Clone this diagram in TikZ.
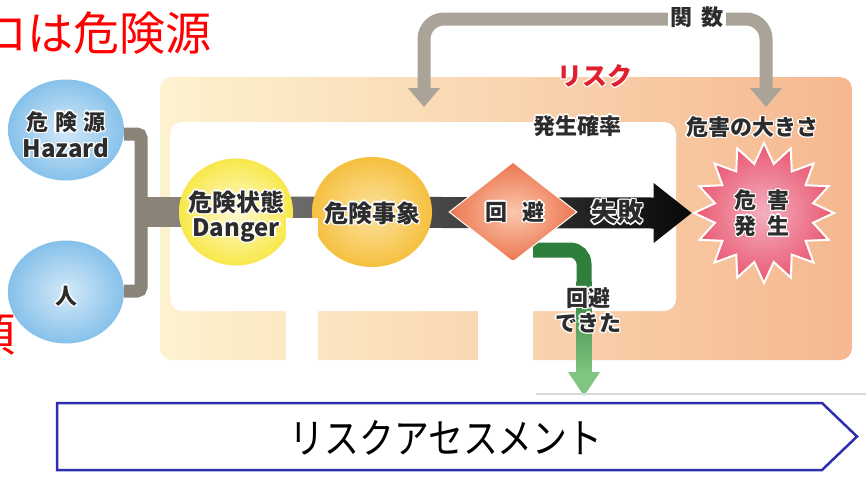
\documentclass[tikz,border=0pt]{standalone}
\usepackage{fontspec}
\usepackage{graphicx}
\setmainfont{Noto Sans CJK JP}
\usetikzlibrary{shapes.geometric,arrows.meta,calc}
\pgfdeclarelayer{back}\pgfdeclarelayer{bg}\pgfdeclarelayer{front}
\pgfsetlayers{back,bg,main,front}

\definecolor{txt}{HTML}{2C2C2C}
\definecolor{bgL}{HTML}{FDF2CF}
\definecolor{bgM}{HTML}{FAD9B0}
\definecolor{bgR}{HTML}{F5B890}
\definecolor{fnc}{HTML}{A9A497}
\definecolor{brkc}{HTML}{8A8478}
\definecolor{arL}{HTML}{7A7A7A}
\definecolor{arR}{HTML}{080808}
\definecolor{grnA}{HTML}{2F7F3C}
\definecolor{grnB}{HTML}{80C580}
\definecolor{riskred}{HTML}{E0202E}
\definecolor{pent}{HTML}{2E2EB0}
\definecolor{blueA}{HTML}{D4E9F8}
\definecolor{blueB}{HTML}{86C1EA}
\definecolor{blueC}{HTML}{3A94D8}
\definecolor{yelA}{HTML}{FEF9D0}
\definecolor{yelB}{HTML}{F8E84A}
\definecolor{yelC}{HTML}{EFCF00}
\definecolor{orA}{HTML}{FBE3A0}
\definecolor{orB}{HTML}{F6C040}
\definecolor{orC}{HTML}{EC9A10}
\definecolor{diA}{HTML}{FBC8AE}
\definecolor{diB}{HTML}{E6552A}
\definecolor{diC}{HTML}{E04A20}
\definecolor{stA}{HTML}{F4B0C0}
\definecolor{stB}{HTML}{E6405A}
\definecolor{stC}{HTML}{DC2A3C}

\pgfdeclareradialshading{blueball}{\pgfpointorigin}{color(0bp)=(blueA); color(25bp)=(blueB); color(50bp)=(blueC)}
\pgfdeclareradialshading{yelball}{\pgfpointorigin}{color(0bp)=(yelA); color(25bp)=(yelB); color(50bp)=(yelC)}
\pgfdeclareradialshading{orball}{\pgfpointorigin}{color(0bp)=(orA); color(25bp)=(orB); color(50bp)=(orC)}
\pgfdeclareradialshading{diball}{\pgfpointorigin}{color(0bp)=(diA); color(35bp)=(diB); color(50bp)=(diC)}
\pgfdeclareradialshading{stball}{\pgfpointorigin}{color(0bp)=(stA); color(32bp)=(stB); color(50bp)=(stC)}

\newcommand\halocp[2]{\rlap{\kern#1\raise#2\hbox{\color{white}\copy0}}}
\newcommand\halo[1]{{\setbox0=\hbox{#1}%
\halocp{1.4pt}{0pt}\halocp{-1.4pt}{0pt}\halocp{0pt}{1.4pt}\halocp{0pt}{-1.4pt}%
\halocp{1pt}{1pt}\halocp{-1pt}{1pt}\halocp{1pt}{-1pt}\halocp{-1pt}{-1pt}%
\copy0}}

\begin{document}
\begin{tikzpicture}[x=1pt,y=-1pt,
  lbl/.style={font=\bfseries\fontsize{22}{24}\selectfont, text=txt, inner sep=0},
  lblbig/.style={lbl, font=\bfseries\fontsize{24}{26}\selectfont},
  ball/.style={ellipse, shade, inner sep=0},
  funcline/.style={draw=fnc, line width=13, rounded corners=20,
     {Triangle[length=19pt,width=31pt]}-{Triangle[length=19pt,width=31pt]}},
  brk/.style={draw=brkc, line width=13, rounded corners=4},
  occl/.style={fill=white},
]
\useasboundingbox (0,0) rectangle (866,477);

% ---------- back layer ----------
\begin{pgfonlayer}{back}
\fill[white] (0,0) rectangle (866,477);
\shade[left color=bgL, middle color=bgM, right color=bgR, rounded corners=12] (160,77) rectangle (852,360);
\fill[white, rounded corners=12] (170,122) rectangle (676,311);
\end{pgfonlayer}

% ---------- shapes ----------
\node[ball, shading=blueball, minimum width=116, minimum height=101] (haz) at (66,130) {};
\node[ball, shading=blueball, minimum width=116, minimum height=103] (hum) at (66,292) {};
\node[ball, shading=yelball, minimum width=114, minimum height=107] (dng) at (236,212) {};
\node[ball, shading=orball, minimum width=120, minimum height=110] (evt) at (372,212) {};
\node[diamond, shade, shading=diball, draw=white, line width=1, inner sep=0,
      minimum width=128, minimum height=100] (dia) at (513,212) {};
\node[star, star points=16, star point ratio=1.4, shade, shading=stball,
      draw=white, line width=2, inner sep=0, minimum size=140] (st) at (764,213) {};

% ---------- connectors ----------
\coordinate (fl) at (424,107);
\coordinate (fr) at (766,107);
\coordinate (gEnd) at (584,396);
\begin{pgfonlayer}{bg}
\draw[funcline] (fl) |- ($(fr)+(0,-88)$) -- (fr);
\draw[brk] ($(haz.east)+(0,4)$) -- (141,134) -- (141,291) -- ($(hum.east)+(0,-1)$);
\draw[draw=brkc, line width=30] (141,212) -- (dng.center);
\shade[left color=arL, right color=arR]
  ($(dng.center)+(0,-15.5)$) -- ($(st.west)+(-38,-15.5)$) -- ($(st.west)+(-38,-30)$) --
  (st.west) -- ($(st.west)+(-38,30)$) -- ($(st.west)+(-38,15.5)$) --
  ($(dng.center)+(0,15.5)$) -- cycle;
\draw[draw=grnA, line width=15, rounded corners=14] ($(dia.center)+(20,38)$) -| ($(gEnd)+(0,-114)$);
\shade[top color=grnA, bottom color=grnB] ($(gEnd)+(-7.5,-115)$) rectangle ($(gEnd)+(7.5,-23)$);
\fill[grnB] ($(gEnd)+(-16,-24)$) -- ($(gEnd)+(16,-24)$) -- (gEnd) -- cycle;
\draw[gray!30, line width=1.5] (536,394) -- (866,394);
\end{pgfonlayer}

% ---------- front ----------
\begin{pgfonlayer}{front}
\fill[occl] (286,218) rectangle (318,378);
\fill[occl] (478,260) rectangle (533,378);

\node[lbl, fill=white, inner xsep=3, inner ysep=1] (fn) at (697,17) {関\hspace{0.4em}数};
\node[lbl] (t1) at (66,122) {\halo{危\hspace{0.3em}険\hspace{0.3em}源}};
\node[lblbig] (t2) at (66,148) {\halo{Hazard}};
\node[lbl] (t3) at (66,296) {\halo{人}};
\node[lblbig] (t4) at (236,202) {\halo{危険状態}};
\node[lblbig] (t5) at (236,230) {\halo{Danger}};
\node[lblbig] (t6) at (372,213) {\halo{危険事象}};
\node[lbl] (t7) at (515,212) {\halo{回\hspace{0.7em}避}};
\node[lbl, font=\bfseries\fontsize{26}{28}\selectfont] (t8) at (617,212) {\halo{失敗}};
\node[lbl] (t9) at (762,200) {\halo{危\hspace{0.5em}害}};
\node[lbl] (t10) at (762,226) {\halo{発\hspace{0.5em}生}};
\node[lbl] (t11) at (752,127) {\halo{危害の大きさ}};
\node[lbl] (t12) at (577,126) {\halo{発生確率}};
\node[lbl, text=riskred, font=\bfseries\fontsize{25}{27}\selectfont] (t13) at (595,76) {\halo{リスク}};
\node[lbl] (t14) at (588,298) {\halo{回避}};
\node[lbl] (t15) at (588,323) {\halo{できた}};

\coordinate (pa) at (57,403);
\coordinate (pb) at (822,403);
\coordinate (pc) at (857,436.5);
\coordinate (pd) at (822,470);
\coordinate (pe) at (57,470);
\draw[draw=pent, line width=2.5] (pa) -- (pb) -- (pc) -- (pd) -- (pe) -- cycle;
\node[inner sep=0, font=\fontsize{41}{44}\selectfont] (ra) at (446,438) {\scalebox{0.85}[1]{リスクアセスメント}};

\node[anchor=east, inner sep=0, text=red, font=\fontsize{46}{48}\selectfont] (rt) at (212,33) {ロは危険源};
\node[anchor=east, inner sep=0, text=red, font=\fontsize{46}{48}\selectfont] (rt2) at (16,335) {項};
\end{pgfonlayer}
\end{tikzpicture}
\end{document}
